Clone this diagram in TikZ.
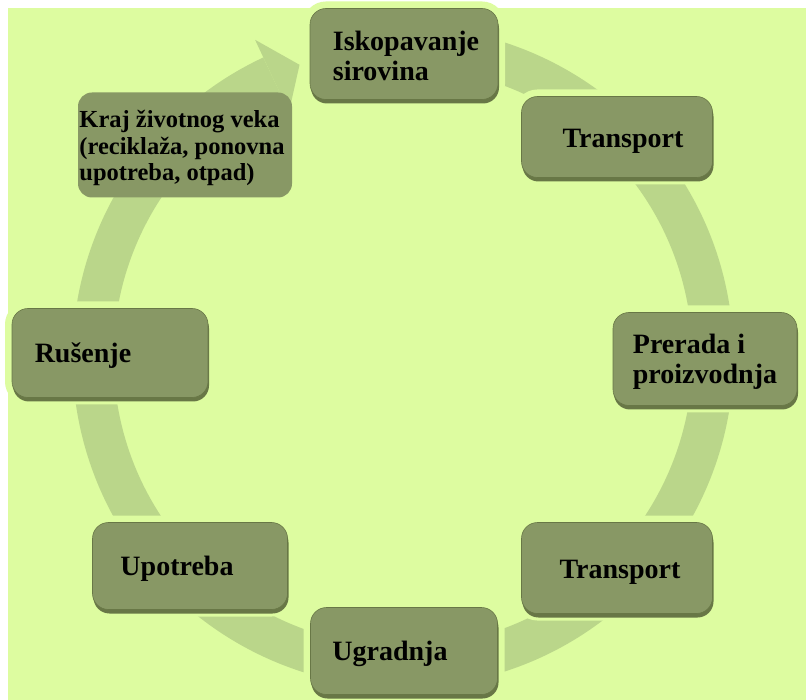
\documentclass[tikz,border=0pt]{standalone}
\usepackage{fontspec}
\setmainfont{Liberation Serif}
\usetikzlibrary{shadows}

\definecolor{bggreen}{RGB}{221,252,160}
\definecolor{ringgreen}{RGB}{186,214,138}
\definecolor{boxgreen}{RGB}{136,152,101}
\definecolor{boxdark}{RGB}{104,119,70}

\begin{document}
\begin{tikzpicture}[%
      x=1pt, y=-1pt,
      stage/.style={rounded corners=16pt, fill=boxgreen, draw=boxdark, line width=0.6pt,
        inner sep=0pt, drop shadow={shadow xshift=1pt, shadow yshift=-4pt, fill=boxdark, opacity=1}},
      cutstage/.style={preaction={draw=bggreen, line width=14pt}, stage},
      stagetext/.style={font=\rmfamily\bfseries\fontsize{28}{30}\selectfont, align=left, inner sep=0pt},
      ]
      \useasboundingbox (0,0) rectangle (806,700);
      \fill [white] (0,0) rectangle (806,700);
      \fill [bggreen] (8,8) rectangle (806,700);

      % ring with arrow head
      \coordinate (hub) at (403,357);
      \draw [color=ringgreen, line width=41pt] ([shift={(-100:310)}]hub) arc [start angle=-100, end angle=245, radius=310];
      \fill [ringgreen] ([shift={(245:350)}]hub) -- ([shift={(250.5:310)}]hub) -- ([shift={(245:270)}]hub) -- cycle;

      % boxes
      \node [cutstage, minimum width=188pt, minimum height=91pt] (iskop) at (404,54) {};
      \node [cutstage, minimum width=191pt, minimum height=81pt] (transA) at (617,137) {};
      \node [cutstage, minimum width=184pt, minimum height=93pt] (prerada) at (705,359) {};
      \node [cutstage, minimum width=191pt, minimum height=91pt] (transB) at (617,568) {};
      \node [cutstage, minimum width=187pt, minimum height=87pt] (ugradnja) at (404,651) {};
      \node [cutstage, minimum width=195pt, minimum height=87pt] (upotreba) at (190,566) {};
      \node [cutstage, minimum width=196pt, minimum height=89pt] (rusenje) at (110,353) {};
      \node [rounded corners=14pt, fill=boxgreen, inner sep=0pt, minimum width=214pt, minimum height=105pt] (kraj) at (185,145) {};

      % texts
      \node [stagetext] (iskopT) at (406,56) {Iskopavanje\\sirovina};
      \node [stagetext] (transAT) at (623,141) {Transport};
      \node [stagetext] (preradaT) at (705,362) {Prerada i\\proizvodnja};
      \node [stagetext] (transBT) at (620,572) {Transport};
      \node [stagetext] (ugradnjaT) at (390,654) {Ugradnja};
      \node [stagetext] (upotrebaT) at (177,569) {Upotreba};
      \node [stagetext] (rusenjeT) at (83,356) {Rušenje};
      \node [stagetext, font=\rmfamily\bfseries\fontsize{24.5}{26.5}\selectfont] (krajT) at (182,148) {Kraj životnog veka\\(reciklaža, ponovna\\upotreba, otpad)};
\end{tikzpicture}
\end{document}
